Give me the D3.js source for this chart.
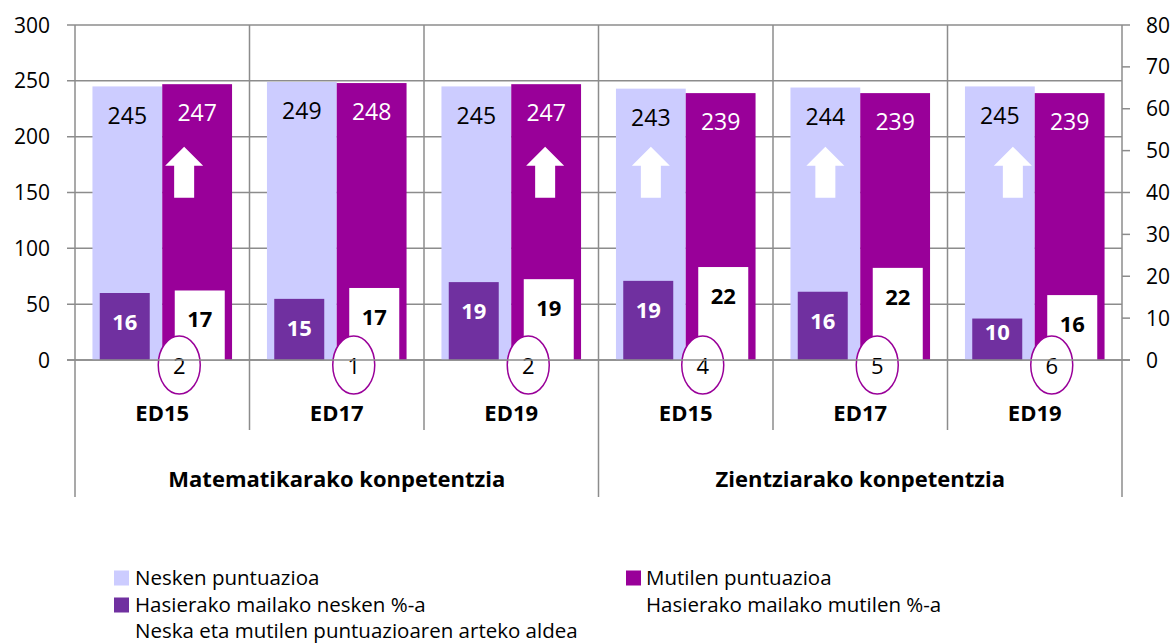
<!DOCTYPE html>
<meta charset="utf-8">
<html>
<head>
    <style>
        body { margin: 0; background: #fff; }
        text { font-family: "Open Sans", sans-serif; }
        .grid line { stroke: #8c8c8c; stroke-width: 1.5px; }
        .tick-label { font-size: 21px; fill: #000; }
    </style>
    <script src="https://cdn.jsdelivr.net/npm/d3@7/dist/d3.min.js"></script>
</head>
<body>
<div id="chart"></div>
<script>
    // data
    const categories = ["ED15", "ED17", "ED19", "ED15", "ED17", "ED19"];
    const groups = ["Matematikarako konpetentzia", "Zientziarako konpetentzia"];
    const girlsScore = [245, 249, 245, 243, 244, 245];
    const boysScore = [247, 248, 247, 239, 239, 239];
    const girlsLow = [16.0, 14.6, 18.6, 18.9, 16.3, 9.9];
    const boysLow = [16.6, 17.2, 19.3, 22.2, 22.0, 15.5];
    const scoreGap = [2, 1, 2, 4, 5, 6];
    const arrowOn = ["m", null, "m", "n", "n", "n"];   // which bar carries the white arrow
    const arrowShift = [-13, 0, -1, 0, 0, 13];
    const leftTicks = [0, 50, 100, 150, 200, 250, 300];
    const rightTicks = [0, 10, 20, 30, 40, 50, 60, 70, 80];
    const legendItems = [
        {label: "Nesken puntuazioa", color: "#ccccff", col: 0, row: 0},
        {label: "Mutilen puntuazioa", color: "#990099", col: 1, row: 0},
        {label: "Hasierako mailako nesken %-a", color: "#7030a0", col: 0, row: 1},
        {label: "Hasierako mailako mutilen %-a", color: "#ffffff", col: 1, row: 1},
        {label: "Neska eta mutilen puntuazioaren arteko aldea", color: "none", col: 0, row: 2}
    ];

    const colors = {n: "#ccccff", m: "#990099", nLow: "#7030a0", mLow: "#ffffff"};

    const W = 1176, H = 644;
    const plot = {left: 75, right: 1122, top: 25, bottom: 360};

    const svg = d3.select("#chart").append("svg")
        .attr("width", W)
        .attr("height", H);

    const x = d3.scaleBand()
        .domain(d3.range(categories.length))
        .range([plot.left, plot.right]);

    const xMain = d3.scaleBand()
        .domain(["n", "m"])
        .range([0, x.bandwidth()])
        .paddingOuter(0.25);

    const xLow = d3.scaleBand()
        .domain(["nLow", "mLow"])
        .range([0, x.bandwidth()])
        .paddingInner(1 / 3)
        .paddingOuter(0.33);

    const y = d3.scaleLinear().domain([0, 300]).range([plot.bottom, plot.top]);
    const y2 = d3.scaleLinear().domain([0, 80]).range([plot.bottom, plot.top]);

    // horizontal gridlines + left ticks
    const grid = svg.append("g").attr("class", "grid");
    grid.selectAll(".h")
        .data(leftTicks)
        .enter().append("line")
        .attr("x1", plot.left - 8)
        .attr("x2", plot.right)
        .attr("y1", d => y(d))
        .attr("y2", d => y(d));

    // right axis ticks
    grid.selectAll(".r")
        .data(rightTicks)
        .enter().append("line")
        .attr("x1", plot.right)
        .attr("x2", plot.right + 8)
        .attr("y1", d => y2(d))
        .attr("y2", d => y2(d));

    // vertical lines at category boundaries
    const bounds = d3.range(categories.length + 1);
    grid.selectAll(".v")
        .data(bounds)
        .enter().append("line")
        .attr("x1", d => plot.left + d * x.step())
        .attr("x2", d => plot.left + d * x.step())
        .attr("y1", plot.top)
        .attr("y2", d => (d % 3 === 0) ? 497 : 430);

    svg.selectAll(".lt")
        .data(leftTicks)
        .enter().append("text")
        .attr("class", "tick-label")
        .attr("x", 50)
        .attr("y", d => y(d))
        .attr("dy", "0.36em")
        .style("text-anchor", "end")
        .text(d => d);

    svg.selectAll(".rt")
        .data(rightTicks)
        .enter().append("text")
        .attr("class", "tick-label")
        .attr("x", 1146)
        .attr("y", d => y2(d))
        .attr("dy", "0.36em")
        .text(d => d);

    const cats = svg.selectAll(".cat")
        .data(d3.range(categories.length))
        .enter().append("g")
        .attr("transform", i => "translate(" + x(i) + ",0)");

    // main score bars
    cats.append("rect")
        .attr("x", xMain("n"))
        .attr("width", xMain.bandwidth())
        .attr("y", i => y(girlsScore[i]))
        .attr("height", i => y(0) - y(girlsScore[i]))
        .style("fill", colors.n);

    cats.append("rect")
        .attr("x", xMain("m"))
        .attr("width", xMain.bandwidth())
        .attr("y", i => y(boysScore[i]))
        .attr("height", i => y(0) - y(boysScore[i]))
        .style("fill", colors.m);

    cats.append("text")
        .attr("x", xMain("n") + xMain.bandwidth() / 2)
        .attr("y", i => y(girlsScore[i]) + 29)
        .attr("dy", "0.36em")
        .style("text-anchor", "middle")
        .style("font-size", "23px")
        .style("fill", "#000")
        .text(i => girlsScore[i]);

    cats.append("text")
        .attr("x", xMain("m") + xMain.bandwidth() / 2)
        .attr("y", i => y(boysScore[i]) + 29)
        .attr("dy", "0.36em")
        .style("text-anchor", "middle")
        .style("font-size", "23px")
        .style("fill", "#fff")
        .text(i => boysScore[i]);

    // white arrows
    const arrowHead = 19, arrowLen = 51, headW = 38, shaftW = 20;
    cats.filter(i => arrowOn[i])
        .append("path")
        .attr("d", i => {
            const cx = xMain(arrowOn[i]) + xMain.bandwidth() / 2 + arrowShift[i];
            const top = y(191);
            return "M" + cx + "," + top +
                "L" + (cx + headW / 2) + "," + (top + arrowHead) +
                "L" + (cx + shaftW / 2) + "," + (top + arrowHead) +
                "L" + (cx + shaftW / 2) + "," + (top + arrowLen) +
                "L" + (cx - shaftW / 2) + "," + (top + arrowLen) +
                "L" + (cx - shaftW / 2) + "," + (top + arrowHead) +
                "L" + (cx - headW / 2) + "," + (top + arrowHead) + "Z";
        })
        .style("fill", "#fff");

    // low-level percentage bars (secondary axis)
    const lowSeries = [
        {key: "nLow", values: girlsLow, text: "#fff"},
        {key: "mLow", values: boysLow, text: "#000"}
    ];
    lowSeries.forEach(s => {
        cats.append("rect")
            .attr("x", xLow(s.key))
            .attr("width", xLow.bandwidth())
            .attr("y", i => y2(s.values[i]))
            .attr("height", i => y2(0) - y2(s.values[i]))
            .style("fill", colors[s.key]);

        cats.append("text")
            .attr("x", xLow(s.key) + xLow.bandwidth() / 2)
            .attr("y", i => {
                const h = y2(0) - y2(s.values[i]);
                return y2(s.values[i]) + (h < 50 ? h / 3 : 29);
            })
            .attr("dy", "0.36em")
            .style("text-anchor", "middle")
            .style("font-size", "22px")
            .style("font-weight", "bold")
            .style("fill", s.text)
            .text(i => Math.round(s.values[i]));
    });

    // x axis line drawn over bars
    svg.append("line")
        .attr("x1", plot.left - 8)
        .attr("x2", plot.right + 8)
        .attr("y1", y(0))
        .attr("y2", y(0))
        .style("stroke", "#8c8c8c")
        .style("stroke-width", "1.5px");

    // gap ellipses
    cats.append("ellipse")
        .attr("cx", x.bandwidth() / 2 + 17)
        .attr("cy", 365)
        .attr("rx", 21)
        .attr("ry", 29)
        .style("fill", "#fff")
        .style("stroke", "#990099")
        .style("stroke-width", "1.5px");

    cats.append("text")
        .attr("x", x.bandwidth() / 2 + 17)
        .attr("y", 366)
        .attr("dy", "0.36em")
        .style("text-anchor", "middle")
        .style("font-size", "22px")
        .text(i => scoreGap[i]);

    // category labels
    cats.append("text")
        .attr("x", x.bandwidth() / 2)
        .attr("y", 413)
        .attr("dy", "0.36em")
        .style("text-anchor", "middle")
        .style("font-size", "22px")
        .style("font-weight", "bold")
        .text(i => categories[i]);

    svg.selectAll(".grp")
        .data(groups)
        .enter().append("text")
        .attr("x", (d, g) => plot.left + (g * 3 + 1.5) * x.step())
        .attr("y", 479)
        .attr("dy", "0.36em")
        .style("text-anchor", "middle")
        .style("font-size", "22px")
        .style("font-weight", "bold")
        .text(d => d);

    // legend
    const legendX = [114, 626], legendY = [578, 605, 631];
    const leg = svg.selectAll(".legend")
        .data(legendItems)
        .enter().append("g")
        .attr("transform", d => "translate(" + legendX[d.col] + "," + legendY[d.row] + ")");

    leg.append("rect")
        .attr("x", 0)
        .attr("y", -7.5)
        .attr("width", 15)
        .attr("height", 15)
        .style("fill", d => d.color);

    leg.append("text")
        .attr("x", d => d.col === 0 ? 21 : 20)
        .attr("dy", "0.36em")
        .style("font-size", "20.5px")
        .text(d => d.label);
</script>
</body>
</html>
